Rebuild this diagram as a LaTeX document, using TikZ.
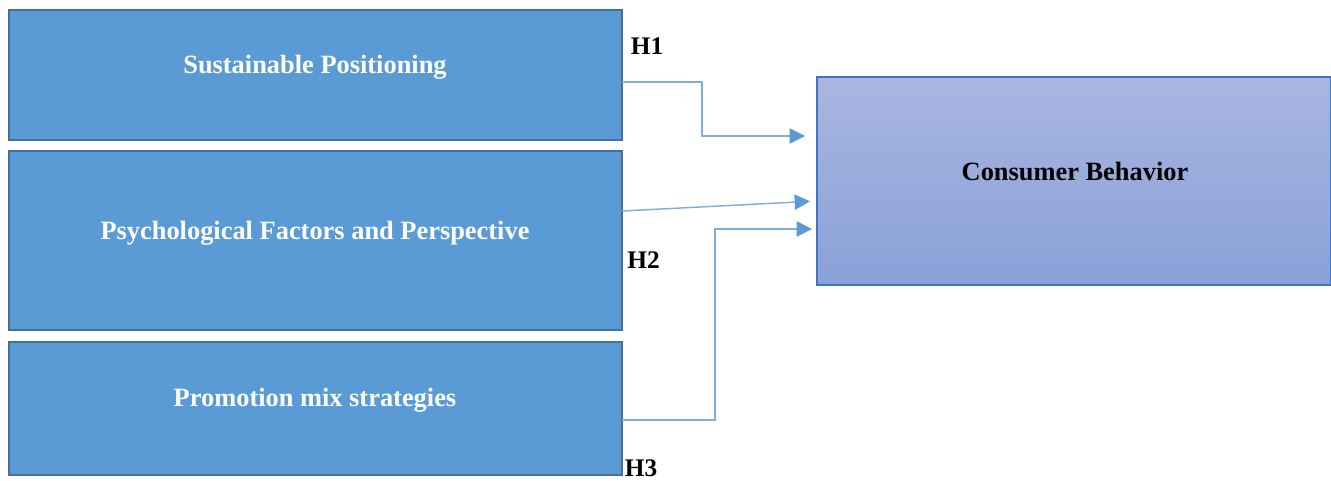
\documentclass[tikz,border=0pt]{standalone}
\usepackage{fontspec}
\setmainfont{Liberation Serif}
\usetikzlibrary{arrows.meta,calc}
\definecolor{boxfill}{HTML}{5B9BD5}
\definecolor{boxedge}{HTML}{41719C}
\definecolor{cbedge}{HTML}{4472C4}
\definecolor{cbtop}{HTML}{A9B6E0}
\definecolor{cbbot}{HTML}{89A1D8}
\definecolor{linecol}{HTML}{7FAEDD}
\tikzset{
  srcbox/.style={draw=boxedge, fill=boxfill, line width=1.5pt, minimum width=459.75pt, inner sep=0pt, outer sep=0pt},
  cbox/.style={draw=cbedge, line width=0.8pt, top color=cbtop, bottom color=cbbot, minimum width=385.5pt, minimum height=156pt, inner sep=0pt, outer sep=0pt},
  wtxt/.style={text=white, font=\bfseries\fontsize{19.8}{22}\selectfont, inner sep=0pt},
  btxt/.style={text=black, font=\bfseries\fontsize{19.8}{22}\selectfont, inner sep=0pt},
  hyp/.style={text=black, font=\bfseries\fontsize{19}{22}\selectfont, inner sep=0pt},
  link/.style={draw=linecol, line width=1.1pt, -{Triangle[length=11.5pt,width=11.5pt,color=boxfill]}}
}
\begin{document}
\begin{tikzpicture}[x=0.75pt,y=-0.75pt]
\useasboundingbox (0,0) rectangle (1331,481);
\node[srcbox, minimum height=97.5pt] (b1) at (315.5,75) {};
\node[srcbox, minimum height=134.25pt] (b2) at (315.5,240.5) {};
\node[srcbox, minimum height=99.75pt] (b3) at (315.5,408.5) {};
\node[cbox] (cb) at (1074,181) {};
\node[wtxt] (t1) at (315,67) {Sustainable Positioning};
\node[wtxt] (t2) at (315,233) {Psychological Factors and Perspective};
\node[wtxt] (t3) at (315,400) {Promotion mix strategies};
\node[btxt] (t4) at (1075,172) {Consumer Behavior};
\node[hyp] (h1) at (647,46) {H1};
\node[hyp] (h2) at (643.5,260) {H2};
\node[hyp] (h3) at (641,468) {H3};
\draw[link, shorten >=9pt] ($(b1.east)+(0,7)$) -| (702,109) |- ($(cb.west)+(0,-45)$);
\draw[link, shorten >=5.25pt] ($(b2.east)+(0,-29.5)$) -- ($(cb.west)+(0,20)$);
\draw[link, shorten >=3.75pt] ($(b3.east)+(0,11.5)$) -| (715,300) |- ($(cb.west)+(0,48)$);
\end{tikzpicture}
\end{document}
